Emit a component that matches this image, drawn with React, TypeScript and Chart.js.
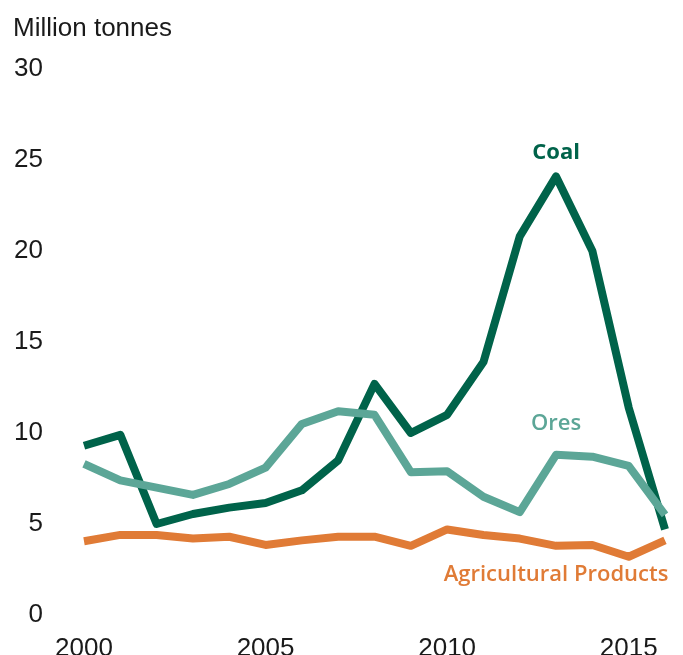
import React, { useEffect, useRef } from "react";
import { Chart, registerables } from "chart.js";

Chart.register(...registerables);

const years = ["2000","2001","2002","2003","2004","2005","2006","2007","2008","2009","2010","2011","2012","2013","2014","2015","2016"];
const coal = [9.3, 9.9, 5.0, 5.55, 5.9, 6.15, 6.85, 8.5, 12.7, 10.0, 11.0, 13.9, 20.8, 24.1, 20.0, 11.4, 4.7];
const ores = [8.3, 7.4, 7.0, 6.6, 7.2, 8.1, 10.5, 11.2, 11.0, 7.85, 7.9, 6.5, 5.65, 8.8, 8.7, 8.2, 5.5];
const agri = [4.05, 4.4, 4.4, 4.2, 4.3, 3.85, 4.1, 4.3, 4.3, 3.8, 4.7, 4.4, 4.2, 3.8, 3.85, 3.2, 4.1];

const seriesNames = ["Coal", "Ores", "Agricultural Products"];
const seriesColors = ["#00634a", "#5ca697", "#e07b36"];
// label anchor in data coordinates: [category index, value]
const labelAnchors: [number, number][] = [[13, 25.4], [13, 10.5], [13, 2.2]];
const yTicks = [0, 5, 10, 15, 20, 25, 30];
const axisTitle = "Million tonnes";

const textPlugin = {
  id: "textPlugin",
  afterDraw(chart: any) {
    const ctx = chart.ctx;
    const xs = chart.scales.x;
    const ys = chart.scales.y;
    ctx.save();
    ctx.fillStyle = "#1a1a1a";
    ctx.font = "26px 'Liberation Sans', Arial, sans-serif";
    ctx.textAlign = "left";
    ctx.textBaseline = "alphabetic";
    ctx.fillText(axisTitle, 13, 36);
    seriesNames.forEach((name, i) => {
      const [xi, v] = labelAnchors[i];
      ctx.fillStyle = seriesColors[i];
      ctx.font = (i === 0 ? "700 " : "600 ") + "22px 'Open Sans', sans-serif";
      ctx.textAlign = "center";
      ctx.textBaseline = "middle";
      ctx.fillText(name, xs.getPixelForValue(xi), ys.getPixelForValue(v));
    });
    ctx.restore();
  },
};

export default function App() {
  const ref = useRef<HTMLCanvasElement>(null);
  useEffect(() => {
    document.body.style.margin = "0";
    const datasets = [coal, ores, agri].map((d, i) => ({
      label: seriesNames[i],
      data: d,
      borderColor: seriesColors[i],
      backgroundColor: seriesColors[i],
      borderWidth: 8,
      pointRadius: 0,
      tension: 0,
      borderJoinStyle: "round" as const,
      borderCapStyle: "butt" as const,
      clip: false as any,
    }));
    const chart = new Chart(ref.current!, {
      type: "line",
      data: { labels: years, datasets: [datasets[2], datasets[1], datasets[0]] },
      options: {
        animation: false,
        responsive: false,
        layout: { padding: { top: 69, right: 18, left: 0, bottom: 0 } },
        plugins: { legend: { display: false }, tooltip: { enabled: false }, title: { display: false } },
        scales: {
          x: {
            type: "category",
            offset: false,
            grid: { display: false, drawTicks: false },
            border: { display: false },
            ticks: {
              autoSkip: false,
              maxRotation: 0,
              padding: 18,
              color: "#1a1a1a",
              font: { family: "'Liberation Sans', Arial, sans-serif", size: 26 },
              callback: (v: any, i: number) => (Number(years[i]) % 5 === 0 ? years[i] : ""),
            },
            afterFit: (s: any) => { s.height = 40; s.paddingLeft = 0; s.paddingRight = 0; },
          },
          y: {
            min: 0,
            max: 30,
            grid: { display: false, drawTicks: false },
            border: { display: false },
            afterBuildTicks: (s: any) => { s.ticks = yTicks.map((v) => ({ value: v })); },
            ticks: {
              padding: 41,
              color: "#1a1a1a",
              font: { family: "'Liberation Sans', Arial, sans-serif", size: 26 },
            },
            afterFit: (s: any) => { s.width = 84; s.paddingTop = 0; s.paddingBottom = 0; },
          },
        },
      },
      plugins: [textPlugin],
    });
    return () => chart.destroy();
  }, []);
  return <canvas ref={ref} width={683} height={655} style={{ display: "block" }} />;
}
